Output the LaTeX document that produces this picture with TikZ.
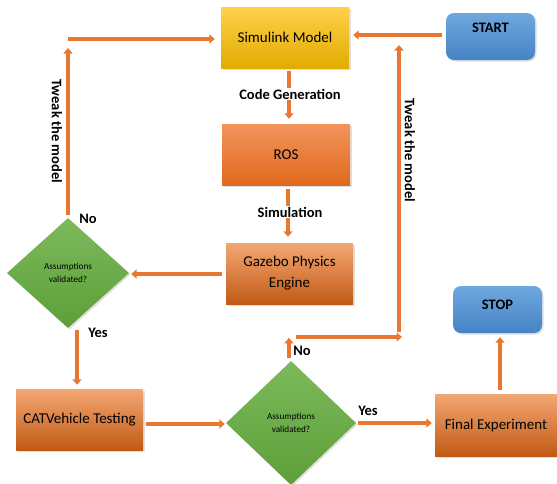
\documentclass[tikz,border=0pt]{standalone}
\usepackage{fontspec}
\setmainfont{Carlito}
\usetikzlibrary{arrows.meta,shapes.geometric,shadows,calc}
\definecolor{orgtop}{HTML}{F3A774}
\definecolor{orgmid}{HTML}{ED7D31}
\definecolor{orgbot}{HTML}{C15A14}
\definecolor{rostop}{HTML}{F2935C}
\definecolor{rosmid}{HTML}{EF7B2C}
\definecolor{rosbot}{HTML}{E06A1C}
\definecolor{yeltop}{HTML}{FFD04A}
\definecolor{yelmid}{HTML}{FFC000}
\definecolor{yelbot}{HTML}{E2AC00}
\definecolor{blutop}{HTML}{6FA8DF}
\definecolor{blubot}{HTML}{4683C6}
\definecolor{grntop}{HTML}{7DB95C}
\definecolor{grnbot}{HTML}{5C9F38}
\definecolor{arrcol}{HTML}{E8782F}
\tikzset{
  shad/.style={drop shadow={opacity=0.25,shadow xshift=1.5pt,shadow yshift=-1.5pt}},
  orgbox/.style={rectangle, inner sep=0pt, shad, top color=orgtop, middle color=orgmid, bottom color=orgbot, font=\fontsize{15}{21}\selectfont, align=center},
  rosbox/.style={orgbox, top color=rostop, middle color=rosmid, bottom color=rosbot},
  yelbox/.style={rectangle, inner sep=0pt, shad, top color=yeltop, middle color=yelmid, bottom color=yelbot, font=\fontsize{15}{18}\selectfont},
  blubox/.style={rectangle, rounded corners=8pt, inner sep=0pt, shad, top color=blutop, bottom color=blubot},
  decision/.style={diamond, inner sep=0pt, shad, top color=grntop, bottom color=grnbot, align=center, font=\fontsize{9.2}{13.5}\selectfont},
  lbl/.style={font=\bfseries\fontsize{14.5}{17}\selectfont},
  wlbl/.style={lbl, fill=white, inner sep=1pt},
  arr/.style={draw=arrcol, line width=3.6pt, -{Triangle[width=9pt,length=5.5pt]}}
}
\begin{document}
\begin{tikzpicture}[x=1pt,y=-1pt]
\useasboundingbox (0,0) rectangle (557,483);
% nodes
\node[yelbox, minimum width=128pt, minimum height=61pt] (sim) at (285,37.5) {Simulink Model};
\node[blubox, minimum width=89pt, minimum height=47pt] (start) at (490.5,36.5) {};
\node[lbl] (startlbl) at (490.5,28) {START};
\node[rosbox, minimum width=128pt, minimum height=61pt] (ros) at (286,154.5) {ROS};
\node[orgbox, minimum width=127pt, minimum height=61pt] (gaz) at (289.5,273.5) {Gazebo Physics\\Engine};
\node[decision, minimum width=122pt, minimum height=110pt] (d1) at (68,273) {Assumptions\\validated?};
\node[orgbox, minimum width=127pt, minimum height=61pt] (cat) at (79.5,419.5) {CATVehicle Testing};
\node[decision, minimum width=130pt, minimum height=124pt] (d2) at (291,423) {Assumptions\\validated?};
\node[orgbox, minimum width=122pt, minimum height=62pt] (final) at (496,425) {Final Experiment};
\node[blubox, minimum width=89pt, minimum height=47pt] (stop) at (497.5,309.5) {};
\node[lbl] (stoplbl) at (497.5,305) {STOP};
% coordinates
\coordinate (t1) at (68,39);
\coordinate (t2) at (296,337);
\coordinate (t3) at (399,337);
\coordinate (t4) at (399,45);
% connectors
\draw[arr] ($(start.west)+(-4,-1.5)$) -- ($(sim.east)+(4,-2.5)$);
\draw[arr] ($(sim.south)+(4,3)$) -- ($(ros.north)+(3,-5)$);
\draw[arr] ($(ros.south)+(2,4)$) -- ($(gaz.north)+(-1.5,-6)$);
\draw[arr] ($(gaz.west)+(-4,0.5)$) -- ($(d1.east)+(2,1)$);
\draw[arr] ($(d1.north)+(0,-3)$) -- ($(t1)+(0,9)$);
\draw[arr] (t1) -- ($(sim.west |- t1)+(-6,0)$);
\draw[arr] ($(d1.south)+(9,2)$) -- ($(cat.north)+(-2.5,-4)$);
\draw[arr] ($(cat.east)+(3,4.5)$) -- ($(d2.west)+(-1,1)$);
\draw[arr] ($(d2.north)+(-2,-3)$) -- ($(d2.north)+(-2,-23)$);
\draw[arr] (t2) -- ($(t3)+(3,0)$);
\draw[arr] ($(t3)+(0,-5)$) -- (t4);
\draw[arr] ($(d2.east)+(2,0)$) -- ($(final.west)+(-3,-2)$);
\draw[arr] ($(final.north)+(4,-4)$) -- ($(stop.south)+(2.5,4)$);
% labels
\node[wlbl] (cg) at (290,94) {Code Generation};
\node[wlbl] (simu) at (290,212) {Simulation};
\node[lbl] (no1) at (88,219) {No};
\node[lbl] (yes1) at (98,333) {Yes};
\node[lbl] (no2) at (302,351) {No};
\node[lbl] (yes2) at (368,411) {Yes};
\node[lbl, rotate=-90] (tw1) at (57,131) {Tweak the model};
\node[lbl, rotate=-90] (tw2) at (410,150) {Tweak the model};
\end{tikzpicture}
\end{document}
